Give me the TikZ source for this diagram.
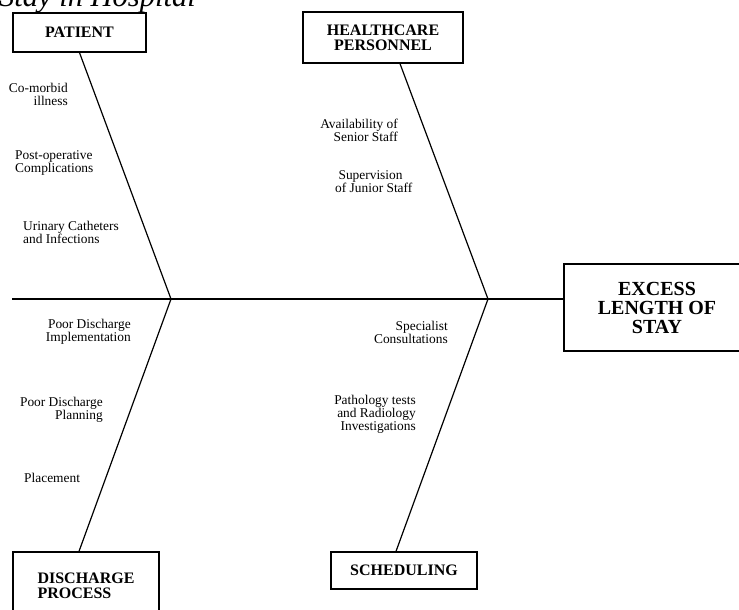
\documentclass[tikz,border=0pt]{standalone}
\usepackage{fontspec}
\setmainfont{Liberation Serif}
\begin{document}
\begin{tikzpicture}[x=1pt,y=-1pt,
    catbox/.style={draw,line width=1.3pt,inner sep=0pt,align=center,
      font=\bfseries\fontsize{16}{15}\selectfont},
    cause/.style={inner sep=0pt,font=\fontsize{13.4}{13}\selectfont},
    bone/.style={line width=1.2pt}]
  \useasboundingbox (0,0) rectangle (739,610);
  \clip (0,0) rectangle (739,610);
  \node[anchor=base west,inner sep=0pt,font=\itshape\fontsize{30.5}{30}\selectfont]
    (title) at (-1,7) {Stay in Hospital};
  % categories and effect
  \node[catbox,minimum width=133,minimum height=39] (patient) at (79.5,32.5) {PATIENT};
  \node[catbox,minimum width=160,minimum height=51] (staff) at (383,37.5) {HEALTHCARE\\PERSONNEL};
  \node[catbox,minimum width=146,minimum height=68,align=left] (discharge) at (86,586) {DISCHARGE\\PROCESS};
  \node[catbox,minimum width=146,minimum height=37] (sched) at (404,570.5) {SCHEDULING};
  \node[catbox,minimum width=186,minimum height=87,
    font=\bfseries\fontsize{20}{19}\selectfont] (effect) at (657,307.5) {EXCESS\\LENGTH OF\\STAY};
  \coordinate (tail) at (12,299);
  \coordinate (j1) at (171,299);
  \coordinate (j2) at (488,299);
  % causes
  \node[cause,anchor=east,align=right] (c1) at (68,94) {Co-morbid\\illness};
  \node[cause,anchor=west,align=left] (c2) at (15,163) {Post-operative\\Complications};
  \node[cause,anchor=west,align=left] (c3) at (23,232) {Urinary Catheters\\and Infections};
  \node[cause,anchor=east,align=right] (c4) at (398,130) {Availability of\\Senior Staff};
  \node[cause,anchor=west,align=left] (c5) at (335,182) {\ Supervision\\of Junior Staff};
  \node[cause,anchor=east,align=right] (c6) at (131,332) {Poor Discharge\\Implementation};
  \node[cause,anchor=east,align=right] (c7) at (103,410) {Poor Discharge\\Planning};
  \node[cause,anchor=west] (c8) at (24,478) {Placement};
  \node[cause,anchor=east,align=right] (c9) at (448,332) {Specialist\\Consultations};
  \node[cause,anchor=east,align=right] (c10) at (416,414) {Pathology tests\\and Radiology\\Investigations};
  \begin{scope}[bone]
    \draw (tail) -- (tail -| effect.west);
    \draw (patient.south) -- (j1);
    \draw ([xshift=-7pt]discharge.north) -- (j1);
    \draw ([xshift=17pt]staff.south) -- (j2);
    \draw ([xshift=-8pt]sched.north) -- (j2);
  \end{scope}
\end{tikzpicture}
\end{document}
